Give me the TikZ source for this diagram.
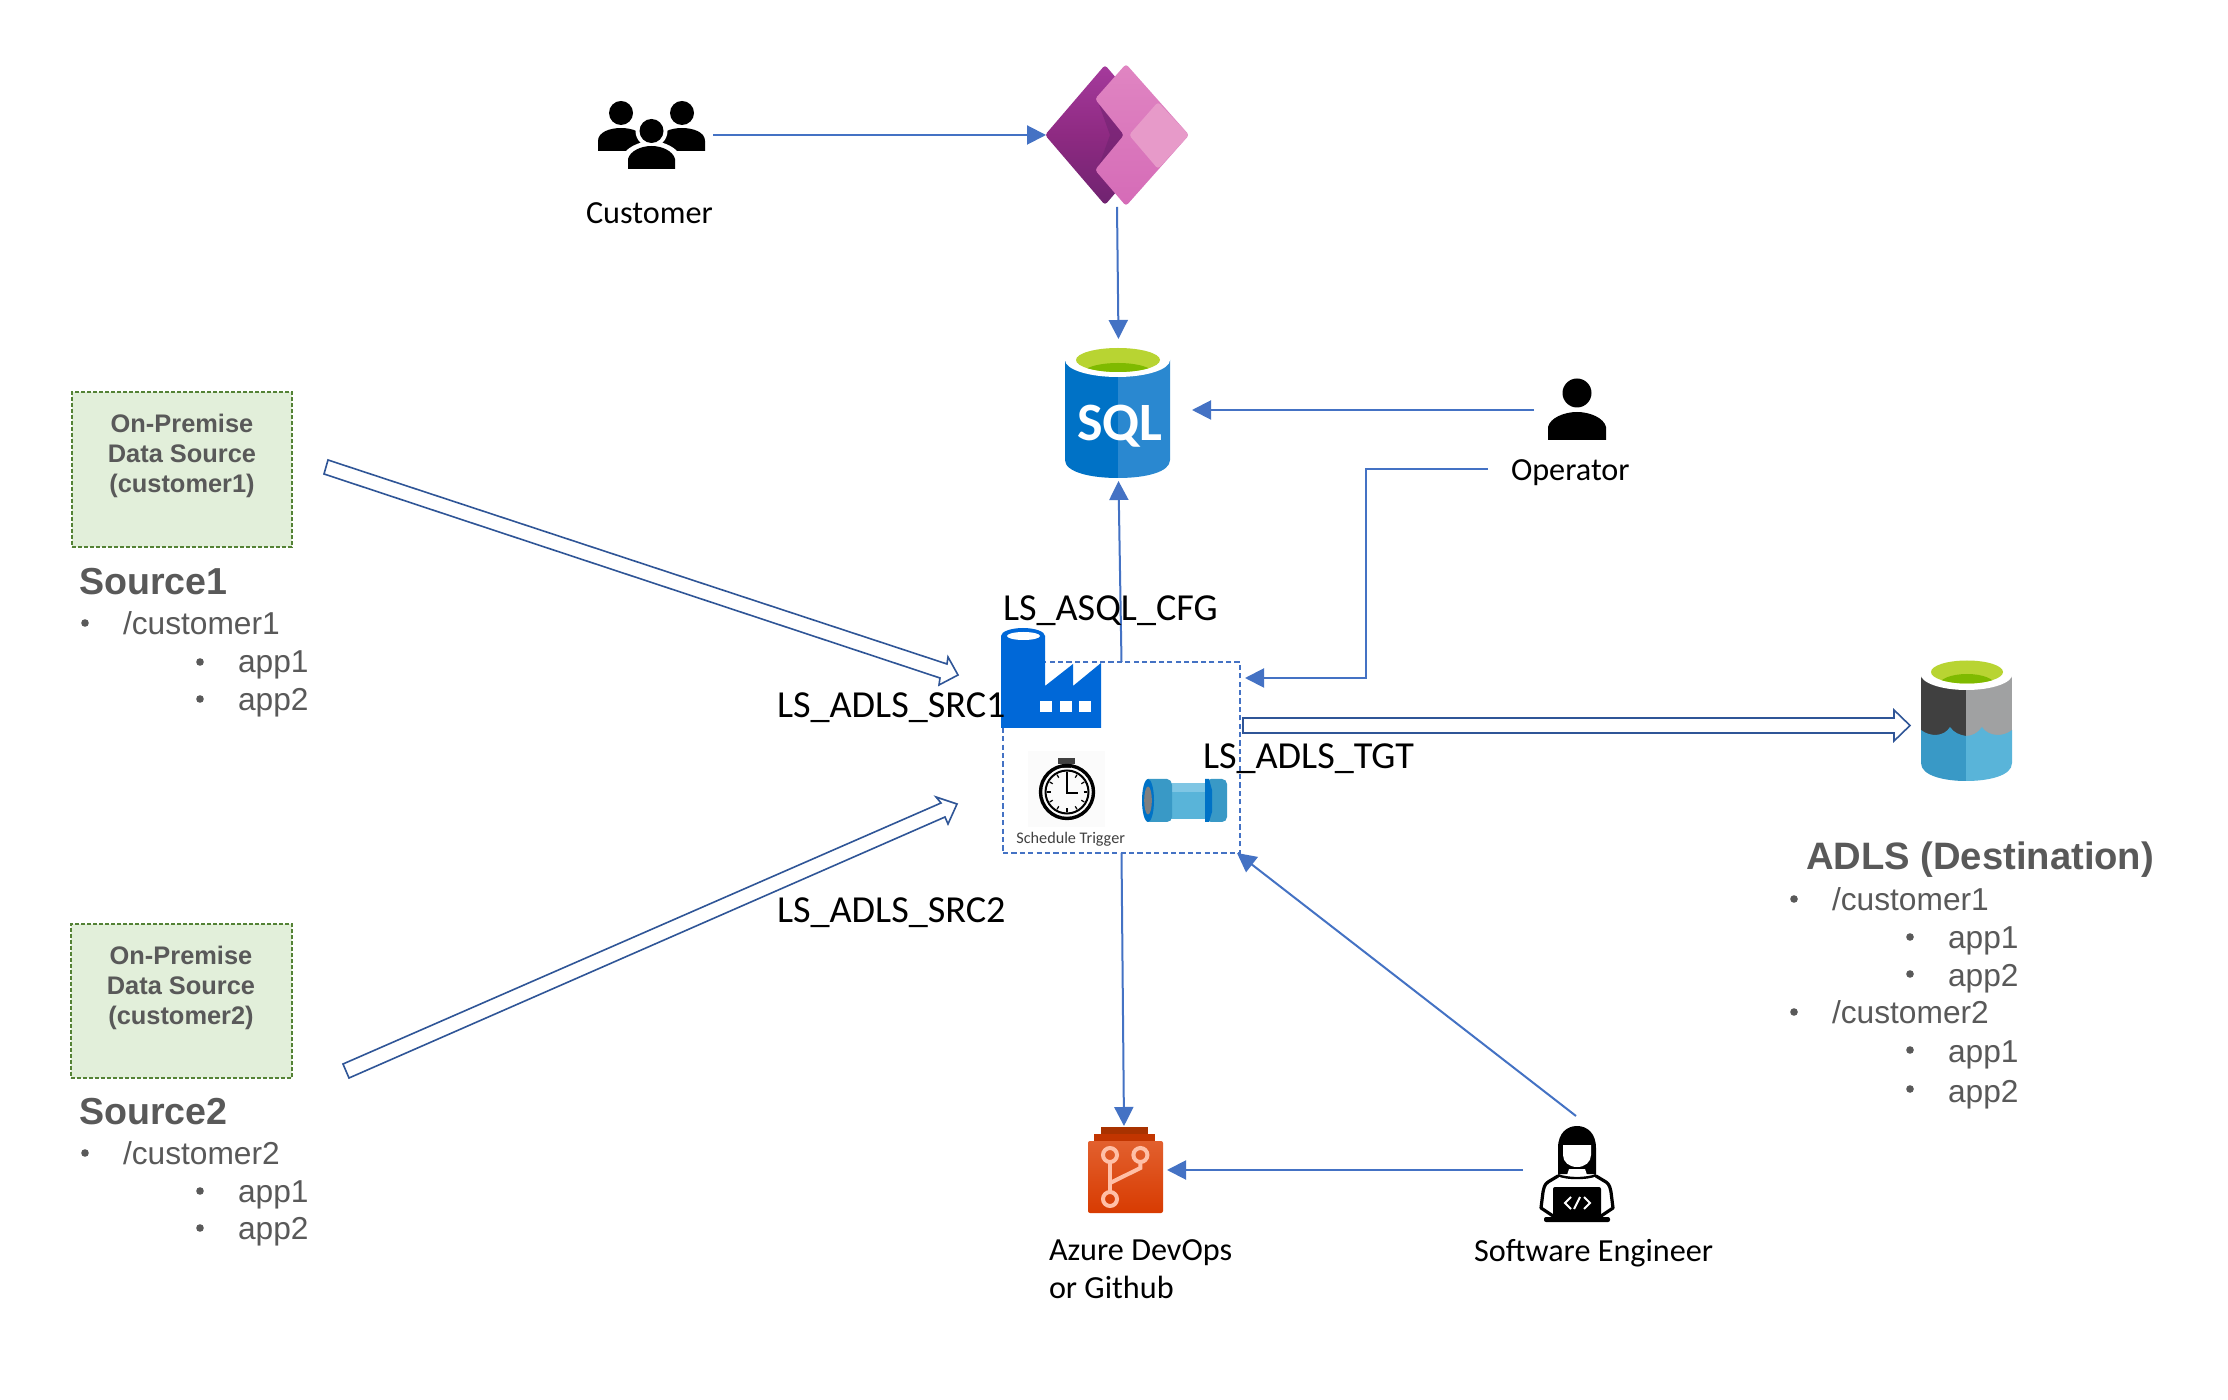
\documentclass[tikz,border=0pt]{standalone}
\usepackage{fontspec}
\setmainfont{Carlito}
\newfontfamily\hv{Liberation Sans}
\usetikzlibrary{arrows.meta,calc}
\definecolor{conn}{HTML}{4472C4}
\definecolor{hollowc}{HTML}{2F5597}
\definecolor{txtgray}{HTML}{595959}
\definecolor{grnfill}{HTML}{E2EFDA}
\definecolor{grnline}{HTML}{548235}
\definecolor{gitc}{HTML}{FFBFA6}
\definecolor{paTop}{HTML}{A53A9C}
\definecolor{paMid}{HTML}{8E2A82}
\definecolor{paBot}{HTML}{6F2370}
\definecolor{paPink}{HTML}{E085C2}
\definecolor{paPinkB}{HTML}{D56BB7}
\definecolor{paLight}{HTML}{E79AC9}
\definecolor{azBlue}{HTML}{0072C6}
\definecolor{azBlueL}{HTML}{2A88D0}
\definecolor{azGreen}{HTML}{B8D432}
\definecolor{azGreenD}{HTML}{7FBA00}
\definecolor{adfBlue}{HTML}{0068D8}
\definecolor{bgTrig}{HTML}{FBFBFB}
\definecolor{dk}{HTML}{404040}
\definecolor{pipeL}{HTML}{59B4D9}
\definecolor{pipeT}{HTML}{7FC6E4}
\definecolor{pipeD}{HTML}{3999C6}
\definecolor{pipeG}{HTML}{7F7F7F}
\definecolor{adlsG}{HTML}{A0A1A2}
\definecolor{doA}{HTML}{A83200}
\definecolor{doB}{HTML}{C23500}
\definecolor{doC}{HTML}{E2602E}
\definecolor{doD}{HTML}{D83B01}
\tikzset{
  conarrow/.style={draw=conn,line width=1pt,-{Triangle[length=9.5pt,width=9.5pt]}},
  hollow/.style={draw=hollowc,line width=.8pt,fill=white,line join=miter},
  anchorbox/.style={inner sep=0pt,outer sep=0pt,draw=none},
  lbl/.style={inner sep=0pt,outer sep=0pt,anchor=base west,font=\fontsize{16.1pt}{19pt}\selectfont,text=black},
  lslbl/.style={inner sep=0pt,outer sep=0pt,anchor=base west,font=\fontsize{19.1pt}{22pt}\selectfont,text=black},
  srcbox/.style={inner sep=0pt,outer sep=0pt,draw=grnline,fill=grnfill,line width=.9pt,dash pattern=on 2.2pt off .8pt},
  srctxt/.style={inner sep=0pt,outer sep=0pt,align=center,text=txtgray,font=\hv\bfseries\fontsize{12.7pt}{15pt}\selectfont},
  headtxt/.style={inner sep=0pt,outer sep=0pt,anchor=base west,text=txtgray,font=\hv\bfseries\fontsize{18.8pt}{22pt}\selectfont},
  item/.style={inner sep=0pt,outer sep=0pt,anchor=base west,text=txtgray,font=\hv\fontsize{15.85pt}{19pt}\selectfont},
  dot/.style={fill=txtgray},
  gitline/.style={draw=gitc,line width=2pt},
}
\begin{document}
\begin{tikzpicture}[x=.5pt,y=-.5pt]
\useasboundingbox (0,0) rectangle (2228,1400);
\fill[white] (0,0) rectangle (2228,1400);

% ---- invisible extents of the icons, used as connector ends
\node[anchorbox,minimum width=115*.5pt,minimum height=70*.5pt] (customers) at (655.5,135) {};
\node[anchorbox,minimum width=142*.5pt,minimum height=144*.5pt] (powerapps) at (1117,135) {};
\node[anchorbox,minimum width=147*.5pt,minimum height=142*.5pt] (sql) at (1118.5,410) {};
\node[anchorbox,minimum width=86*.5pt,minimum height=60*.5pt] (operator) at (1577,410) {};
\node[anchorbox,minimum width=86*.5pt,minimum height=88*.5pt] (devops) at (1124,1170) {};
\node[anchorbox,minimum width=106*.5pt,minimum height=108*.5pt] (engineer) at (1576,1170) {};

% ---- customers icon
\fill[black] (621,113) ellipse (12 and 12);
\fill[black] (682,113) ellipse (12 and 12);
\fill[black] (598,151) -- (598,141) .. controls (598,132) and (610,128) .. (621,128) .. controls (632,128) and (644,132) .. (644,141) -- (644,151) -- cycle;
\fill[black] (659,151) -- (659,141) .. controls (659,132) and (671,128) .. (682,128) .. controls (693,128) and (705,132) .. (705,141) -- (705,151) -- cycle;
\fill[white] (651.5,131) ellipse (16 and 16);
\fill[white] (622,172) -- (622,158) .. controls (624,148) and (640,141) .. (651.5,141) .. controls (663,141) and (679,148) .. (681,158) -- (681,172) -- cycle;
\fill[black] (651.5,131) ellipse (12 and 12);
\fill[black] (628,169) -- (628,159) .. controls (630,151) and (641,146) .. (651.5,146) .. controls (662,146) and (673,151) .. (675,159) -- (675,169) -- cycle;

% ---- power apps icon
\shade[rounded corners=1.5pt,top color=paTop,bottom color=paBot,middle color=paMid] (1045,135) -- (1105,65) -- (1135,100) -- (1135,170) -- (1105,205) -- cycle;
\fill[paBot,opacity=.55] (1097,99) -- (1126,135) -- (1097,171) -- (1110,135) -- cycle;
\shade[rounded corners=1.5pt,top color=paPink,bottom color=paPinkB] (1126,64) -- (1189,135) -- (1126,206) -- (1095,170) -- (1124,135) -- (1095,99) -- cycle;
\fill[rounded corners=1.5pt,paLight] (1158,102) -- (1189,135) -- (1158,169) -- (1129,135) -- cycle;

% ---- SQL icon
\fill[azBlue] (1065,360) -- (1118,360) -- (1118,478) .. controls (1090,478) and (1065,472) .. (1065,460) -- cycle;
\fill[azBlueL] (1170,360) -- (1118,360) -- (1118,478) .. controls (1146,478) and (1170,472) .. (1170,460) -- cycle;
\fill[white] (1117.5,360) ellipse (52.5 and 17);
\fill[azGreen] (1118,360) ellipse (42 and 12);
\begin{scope}
\clip (1118,360) ellipse (42 and 12);
\fill[azGreenD] (1118,374) ellipse (36 and 11);
\end{scope}
\node[inner sep=0pt,anchor=base west,text=white,font=\bfseries\fontsize{27pt}{30pt}\selectfont] (sqltxt) at (1077,441) {SQL};

% ---- pipeline box
\node[draw=conn,line width=.7pt,dash pattern=on 2.6pt off 1.6pt,inner sep=0pt,outer sep=0pt,minimum width=237*.5pt,minimum height=191*.5pt] (adf) at (1121.5,757.5) {};

% ---- factory icon
\fill[adfBlue] (1001,636) -- (1001,728) -- (1101,728) -- (1101,663) -- (1073,686) -- (1073,664) -- (1045,686) -- (1045,636) -- cycle;
\fill[adfBlue] (1023,636) ellipse (22 and 8);
\fill[white] (1023.5,636) ellipse (16.5 and 4);
\foreach \xx in {1040,1060,1079}{\fill[white] (\xx,701) rectangle ++(11.5,11);}

% ---- schedule trigger icon
\fill[bgTrig] (1028,751) rectangle (1105,827);
\fill[dk] (1058,758) rectangle (1075,764);
\fill[dk] (1062,764) rectangle (1071,768);
\draw[black,line width=1.7pt] (1067,792) circle (26.5);
\draw[black,line width=1pt] (1067,792) circle (21.5);
\foreach \a in {0,30,...,330}{\draw[black,line width=.6pt] ($(1067,792)+(\a:16.5)$) -- ($(1067,792)+(\a:20)$);}
\draw[black,line width=.9pt] (1067,773) -- (1067,793) -- (1078,793);
\node[inner sep=0pt,anchor=base west,text=dk,font=\fontsize{8.1pt}{9pt}\selectfont] (trigger) at (1016,844) {Schedule Trigger};

% ---- pipeline icon
\fill[pipeL] (1167,783) rectangle (1206,819);
\fill[pipeT] (1167,783) rectangle (1206,792);
\fill[pipeD,rounded corners=1pt] (1146,779) -- (1169,779) -- (1172,783) -- (1172,819) -- (1169,822) -- (1146,822) -- cycle;
\fill[pipeD,rounded corners=2.5pt] (1206,779) rectangle (1227,822);
\fill[azBlue] (1205,779) -- (1209,779) -- (1212,790) -- (1212,812) -- (1209,822) -- (1205,822) -- cycle;
\fill[azBlue] (1148,800.5) ellipse (6 and 21.5);
\fill[pipeG] (1148,800.5) ellipse (3.8 and 14);

% ---- ADLS icon
\fill[dk] (1921,675) rectangle (1966,736);
\fill[adlsG] (1966,675) rectangle (2012,736);
\fill[pipeD] (1921,730) .. controls (1930,737) and (1944,737) .. (1950,727) .. controls (1954,733) and (1960,735) .. (1966,736) -- (1966,781) .. controls (1945,781) and (1921,776) .. (1921,763) -- cycle;
\fill[pipeL] (1966,736) .. controls (1972,736) and (1978,733) .. (1982,727) .. controls (1988,737) and (2004,737) .. (2012,730) -- (2012,763) .. controls (2012,776) and (1988,781) .. (1966,781) -- cycle;
\fill[white] (1966.5,674) ellipse (46 and 16);
\fill[azGreen] (1967,672) ellipse (36 and 11.5);
\begin{scope}
\clip (1967,672) ellipse (36 and 11.5);
\fill[azGreenD] (1967,685) ellipse (28 and 11);
\end{scope}

% ---- devops icon
\fill[doA] (1101,1127) rectangle (1148,1141);
\fill[doB] (1094,1134) rectangle (1155,1141);
\shade[top color=doC,bottom color=doD,rounded corners=1pt] (1088,1141) rectangle (1163,1213);
\draw[gitline] (1110,1163) -- (1110,1191);
\draw[gitline] (1140.4,1163) -- (1140.4,1168) -- (1110,1183);
\draw[gitline] (1110,1155) circle (7);
\draw[gitline] (1140.4,1155) circle (7);
\draw[gitline] (1110,1199) circle (7);

% ---- operator icon
\fill[black] (1577,393) circle (14.5);
\fill[black] (1548,440) -- (1548,427) .. controls (1550,418) and (1564,412) .. (1577,412) .. controls (1590,412) and (1604,418) .. (1606,427) -- (1606,440) -- cycle;

% ---- engineer icon
\draw[black,line width=1.6pt,line cap=round,line join=round] (1558,1176) -- (1548,1182) .. controls (1544,1185) and (1544,1188) .. (1543,1192) -- (1541,1208) -- (1553,1216);
\draw[black,line width=1.6pt,line cap=round,line join=round] (1596,1176) -- (1606,1182) .. controls (1610,1185) and (1610,1188) .. (1611,1192) -- (1613,1208) -- (1601,1216);
\draw[black,line width=1.2pt] (1558,1175) .. controls (1565,1179) and (1589,1179) .. (1596,1175);
\fill[black] (1558,1174) -- (1558,1148) .. controls (1558,1133) and (1567,1126) .. (1577,1126) .. controls (1587,1126) and (1596,1133) .. (1596,1148) -- (1596,1174) -- cycle;
\fill[white] (1563,1145) -- (1591,1145) -- (1591,1155) .. controls (1591,1162) and (1585,1167) .. (1577,1167) .. controls (1569,1167) and (1563,1162) .. (1563,1155) -- cycle;
\fill[white] (1569,1169) -- (1585,1169) -- (1587,1175) .. controls (1582,1177) and (1572,1177) .. (1567,1175) -- cycle;
\fill[black,rounded corners=1pt] (1553,1187) rectangle (1601,1218);
\fill[black,rounded corners=1pt] (1544,1217) rectangle (1610,1222);
\draw[white,line width=1pt] (1571,1197) -- (1565,1203) -- (1571,1209);
\draw[white,line width=1pt] (1584,1197) -- (1590,1203) -- (1584,1209);
\draw[white,line width=1pt] (1580,1197) -- (1574,1209);

% ---- connectors
\draw[conarrow] (customers.east) -- (powerapps.west);
\draw[conarrow] (powerapps.south) -- (sql.north);
\draw[conarrow] (operator.west) -- (sql.east);
\draw[conarrow] (adf.north) -- (sql.south);
\draw[conarrow] (adf.south) -- (devops.north);
\draw[conarrow] (engineer.west) -- (devops.east);
\draw[conarrow] (engineer.north) -- ([xshift=-1.5pt]adf.south east);

% ---- hollow arrows
\coordinate (s1a) at (328,460); \coordinate (s1b) at (324,474);
\coordinate (s1c) at (947,664); \coordinate (s1d) at (948,657);
\coordinate (s1t) at (958,675); \coordinate (s1e) at (939,685); \coordinate (s1f) at (940,678);
\draw[hollow] (s1a) -- (s1c) -- (s1d) -- (s1t) -- (s1e) -- (s1f) -- (s1b) -- cycle;
\coordinate (s2a) at (343,1064); \coordinate (s2b) at (349,1078);
\coordinate (s2c) at (941,803); \coordinate (s2d) at (936,797);
\coordinate (s2t) at (957,804); \coordinate (s2e) at (948,824); \coordinate (s2f) at (945,817);
\draw[hollow] (s2a) -- (s2c) -- (s2d) -- (s2t) -- (s2e) -- (s2f) -- (s2b) -- cycle;
\coordinate (t1a) at (1243,718); \coordinate (t1b) at (1243,733);
\coordinate (t1c) at (1894,718); \coordinate (t1d) at (1894,710);
\coordinate (t1t) at (1910,725.5); \coordinate (t1e) at (1894,741); \coordinate (t1f) at (1894,733);
\draw[hollow] (t1a) -- (t1c) -- (t1d) -- (t1t) -- (t1e) -- (t1f) -- (t1b) -- cycle;

% ---- labels
\node[lbl] (customerlbl) at (586,224) {Customer};
\node[lbl] (operatorlbl) at (1511,481) {Operator};
\coordinate (elbow) at (1366,678);
\coordinate (adfin) at (1245,678);
\draw[conarrow] ([shift={(-11.5pt,2.25pt)}]operatorlbl.west) -| (elbow) -- (adfin);
\node[lslbl] (asql) at (1003,621) {LS\_ASQL\_CFG};
\node[lslbl] (src1) at (777,718) {LS\_ADLS\_SRC1};
\node[lslbl] (src2) at (777,922) {LS\_ADLS\_SRC2};
\node[lslbl] (tgt) at (1203,769) {LS\_ADLS\_TGT};
\node[lbl] (devopslbl) at (1049,1260) {Azure DevOps};
\node[lbl] (githublbl) at (1049,1298) {or Github};
\node[lbl] (engineerlbl) at (1474,1261) {Software Engineer};

% ---- source 1
\node[srcbox,minimum width=220*.5pt,minimum height=155*.5pt] (box1) at (182,469.5) {};
\node[srctxt] (box1txt) at (182,456) {On-Premise\\Data Source\\(customer1)};
\node[headtxt] (h1) at (79,595) {Source1};
\fill[dot] (85,623) circle (3.8);
\node[item] (c1) at (123,635) {/customer1};
\fill[dot] (200,662) circle (3.8);
\node[item] (c1a) at (238,673) {app1};
\fill[dot] (200,699) circle (3.8);
\node[item] (c1b) at (238,711) {app2};

% ---- source 2
\node[srcbox,minimum width=221*.5pt,minimum height=154*.5pt] (box2) at (181.5,1001) {};
\node[srctxt] (box2txt) at (181,988) {On-Premise\\Data Source\\(customer2)};
\node[headtxt] (h2) at (79,1124) {Source2};
\fill[dot] (85,1153) circle (3.8);
\node[item] (c2) at (123,1164) {/customer2};
\fill[dot] (200,1191) circle (3.8);
\node[item] (c2a) at (238,1202) {app1};
\fill[dot] (200,1228) circle (3.8);
\node[item] (c2b) at (238,1239) {app2};

% ---- destination
\node[headtxt,font=\hv\bfseries\fontsize{19.1pt}{22pt}\selectfont] (h3) at (1806,870) {ADLS (Destination)};
\fill[dot] (1794,899) circle (3.8);
\node[item] (d1) at (1832,910) {/customer1};
\fill[dot] (1910,937) circle (3.8);
\node[item] (d1a) at (1948,948) {app1};
\fill[dot] (1910,974) circle (3.8);
\node[item] (d1b) at (1948,986) {app2};
\fill[dot] (1794,1012) circle (3.8);
\node[item] (d2) at (1832,1023) {/customer2};
\fill[dot] (1910,1050) circle (3.8);
\node[item] (d2a) at (1948,1062) {app1};
\fill[dot] (1910,1089) circle (3.8);
\node[item] (d2b) at (1948,1102) {app2};
\end{tikzpicture}
\end{document}
